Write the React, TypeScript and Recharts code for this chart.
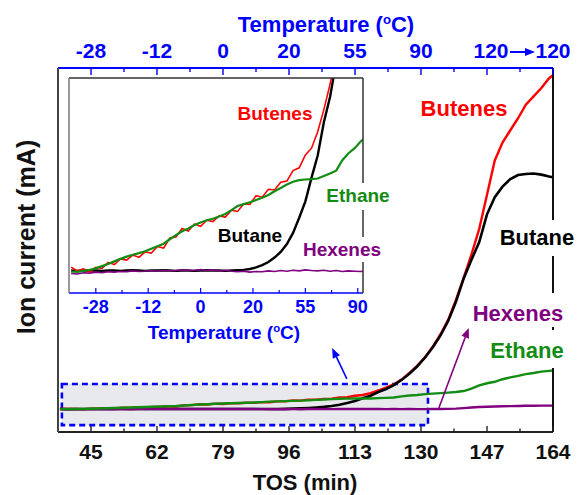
import React from 'react';
import { LineChart, Line, XAxis, YAxis, ReferenceArea, ReferenceLine } from 'recharts';

const W = 578;
const H = 495;
const FONT = '"Liberation Sans", Arial, Helvetica, sans-serif';
const BLUE = '#0000ff';
const RED = '#ff0000';
const GREEN = '#138c13';
const PURPLE = '#800080';

// time on stream (min)
const tos = [
  37, 39, 41, 43, 45, 47, 49, 51, 53, 55, 57, 59, 61, 63, 65, 67, 69, 71, 73, 75, 77, 79,
  81, 83, 85, 87, 89, 91, 93, 95, 97, 99, 101, 103, 105, 107, 109, 111, 113, 115, 117, 119,
  121, 123, 125, 127, 129, 131, 133, 135, 137, 139, 141, 143, 145, 147, 149, 151, 153, 155,
  157, 159, 161, 163, 164,
];

// ion current (arb. mA scale)
const butenes = [
  6.42, 6.3, 6.36, 6.26, 6.41, 6.38, 6.57, 6.5, 6.68, 6.64, 6.8, 6.73, 6.9, 6.86, 7.07, 7.02,
  7.34, 7.37, 7.64, 7.56, 7.78, 7.71, 7.9, 7.86, 8.04, 8.0, 8.22, 8.18, 8.42, 8.4, 8.68, 8.63,
  8.88, 8.86, 9.1, 9.14, 9.47, 9.56, 9.97, 10.18, 10.7, 11.4, 12.2, 13.1, 14.4, 16.2, 18.2,
  20.5, 23.4, 26.8, 30.8, 36.3, 42.4, 48.8, 55.8, 65.2, 74.6, 79.5, 82.9, 86.2, 89.9, 92.2,
  94.5, 97.2, 98.0,
];
const butane = [
  6.31, 6.3, 6.31, 6.32, 6.31, 6.3, 6.31, 6.31, 6.3, 6.31, 6.32, 6.31, 6.3, 6.31, 6.31, 6.32,
  6.31, 6.3, 6.31, 6.31, 6.3, 6.31, 6.32, 6.31, 6.31, 6.3, 6.31, 6.32, 6.33, 6.36, 6.41, 6.48,
  6.58, 6.72, 6.9, 7.15, 7.5, 7.98, 8.5, 9.25, 9.95, 11.0, 11.8, 12.9, 14.3, 16.0, 18.0, 20.4,
  23.2, 26.5, 30.5, 35.8, 42.2, 47.3, 52.2, 59.8, 64.5, 67.4, 69.5, 70.6, 70.9, 71.0, 70.7,
  70.2, 70.0,
];
const ethane = [
  6.28, 6.27, 6.3, 6.33, 6.38, 6.45, 6.52, 6.6, 6.68, 6.75, 6.81, 6.86, 6.92, 7.0, 7.08, 7.16,
  7.3, 7.43, 7.55, 7.64, 7.75, 7.83, 7.9, 7.95, 8.02, 8.1, 8.22, 8.35, 8.41, 8.47, 8.54, 8.61,
  8.7, 8.82, 8.92, 9.03, 9.12, 9.17, 9.19, 9.2, 9.22, 9.3, 9.38, 9.47, 9.8, 10.02, 10.18, 10.4,
  10.55, 10.68, 10.82, 10.98, 11.25, 11.9, 12.8, 13.4, 13.8, 14.5, 15.0, 15.4, 15.9, 16.2,
  16.6, 16.8, 16.9,
];
const hexenes = [
  6.22, 6.2, 6.24, 6.23, 6.26, 6.24, 6.27, 6.26, 6.28, 6.27, 6.3, 6.28, 6.29, 6.31, 6.29, 6.32,
  6.3, 6.31, 6.33, 6.31, 6.32, 6.34, 6.31, 6.33, 6.3, 6.32, 6.29, 6.27, 6.29, 6.26, 6.28, 6.27,
  6.3, 6.28, 6.31, 6.29, 6.32, 6.3, 6.33, 6.31, 6.3, 6.32, 6.29, 6.31, 6.28, 6.3, 6.29, 6.28,
  6.3, 6.31, 6.35, 6.42, 6.55, 6.72, 6.85, 6.95, 7.02, 7.08, 7.12, 7.16, 7.2, 7.22, 7.24, 7.25,
  7.25,
];

const rows = tos.map((t, i) => ({
  tos: t,
  butenes: butenes[i],
  butane: butane[i],
  ethane: ethane[i],
  hexenes: hexenes[i],
}));

// TOS ticks and the matching reactor temperature labels
const tosTicks = [45, 62, 79, 96, 113, 130, 147, 164];
const tempLabels = ['-28', '-12', '0', '20', '55', '90', '120', '120'];
const minorTicks = [53.5, 70.5, 87.5, 104.5, 121.5, 138.5, 155.5];
const insetMajor = tosTicks.slice(0, 6);
const insetMinor = minorTicks.slice(0, 5);

const mainX: [number, number] = [36.5, 164];
const mainY: [number, number] = [0, 100];
// region blown up in the inset
const insetX: [number, number] = [36.3, 131.7];
const insetY: [number, number] = [5.6, 12.4];
const boxX = [37.5, 131.8];
const boxY = [1.9, 13.2];

// annotation arrows (data units)
const hexArrow = [{ x: 134.6, y: 6.6 }, { x: 142.3, y: 28.6 }];
const boxArrow = [{ x: 110.9, y: 14.6 }, { x: 107.1, y: 23.1 }];

const tempOf = (v: number) => tempLabels[tosTicks.indexOf(v)];

const BottomTick = (p: any) => {
  const { x, y, payload } = p;
  const major = tosTicks.includes(payload.value);
  return (
    <g>
      <line x1={x} x2={x} y1={y} y2={y - (major ? 6 : 3.5)} stroke="#222" strokeWidth={1.4} />
      {major && (
        <text x={x} y={y + 27} textAnchor="middle" fontSize={21} fontWeight="bold" fontFamily={FONT} fill="#111">
          {payload.value}
        </text>
      )}
    </g>
  );
};

const TopTick = (p: any) => {
  const { x, y, payload } = p;
  const major = tosTicks.includes(payload.value);
  const v = payload.value;
  return (
    <g>
      <line x1={x} x2={x} y1={y} y2={y + (major ? 7 : 4)} stroke={BLUE} strokeWidth={1.4} />
      {major && (
        <text x={v === 147 ? x + 4 : x} y={y - 10} textAnchor="middle" fontSize={21} fontWeight="bold" fontFamily={FONT} fill={BLUE}>
          {tempOf(v)}
        </text>
      )}
      {v === 147 && (
        <g>
          <line x1={x + 23} x2={x + 40} y1={y - 16} y2={y - 16} stroke={BLUE} strokeWidth={2} />
          <polygon points={`${x + 48},${y - 16} ${x + 38},${y - 20} ${x + 38},${y - 12}`} fill={BLUE} />
        </g>
      )}
    </g>
  );
};

const InsetTick = (p: any) => {
  const { x, y, payload } = p;
  const major = insetMajor.includes(payload.value);
  return (
    <g>
      <line x1={x} x2={x} y1={y} y2={y - (major ? 5 : 3)} stroke={BLUE} strokeWidth={1.2} />
      {major && (
        <text x={x} y={y + 20} textAnchor="middle" fontSize={18} fontWeight="bold" fontFamily={FONT} fill={BLUE}>
          {tempOf(payload.value)}
        </text>
      )}
    </g>
  );
};

const Arrow = (p: any) => {
  const { x1, y1, x2, y2, color } = p;
  const a = Math.atan2(y2 - y1, x2 - x1);
  const bx = x2 - 10 * Math.cos(a);
  const by = y2 - 10 * Math.sin(a);
  const nx = -Math.sin(a) * 4;
  const ny = Math.cos(a) * 4;
  return (
    <g>
      <line x1={x1} y1={y1} x2={bx} y2={by} stroke={color} strokeWidth={1.6} />
      <polygon points={`${x2},${y2} ${bx + nx},${by + ny} ${bx - nx},${by - ny}`} fill={color} />
    </g>
  );
};

const Degree = ({ size }: { size: number }) => (
  <>
    <tspan dy={-size * 0.38} fontSize={size * 0.6}>o</tspan>
    <tspan dy={size * 0.38}>C)</tspan>
  </>
);

const Label = ({ x, y, size, color, text, box }: any) => (
  <g>
    {box && <rect x={box[0]} y={box[1]} width={box[2]} height={box[3]} fill="#fff" />}
    <text x={x} y={y} textAnchor="middle" fontSize={size} fontWeight="bold" fontFamily={FONT} fill={color}>
      {text}
    </text>
  </g>
);

// axes get 1px of room (a zero-size axis is not drawn), so margins are 1px short
export default function App() {
  return (
    <div style={{ position: 'absolute', left: 0, top: 0, width: W, height: H, background: '#fff' }}>
      <div style={{ position: 'absolute', left: 0, top: 0 }}>
        <LineChart width={W} height={H} data={rows} margin={{ top: 67, right: 24, bottom: 62, left: 57 }}>
          <XAxis
            dataKey="tos"
            type="number"
            domain={mainX}
            allowDataOverflow
            ticks={[...tosTicks, ...minorTicks]}
            interval={0}
            height={1}
            tickSize={0}
            tickMargin={0}
            tickLine={false}
            tick={(p: any) => <BottomTick {...p} />}
            axisLine={{ stroke: '#222', strokeWidth: 2 }}
          />
          <XAxis
            xAxisId="top"
            dataKey="tos"
            type="number"
            orientation="top"
            domain={mainX}
            allowDataOverflow
            ticks={[...tosTicks, ...minorTicks]}
            interval={0}
            height={1}
            tickSize={0}
            tickMargin={0}
            tickLine={false}
            tick={(p: any) => <TopTick {...p} />}
            axisLine={{ stroke: BLUE, strokeWidth: 2 }}
          />
          <YAxis yAxisId="left" domain={mainY} width={1} tick={false} tickLine={false} axisLine={{ stroke: '#444', strokeWidth: 2 }} />
          <YAxis yAxisId="right" orientation="right" domain={mainY} width={1} tick={false} tickLine={false} axisLine={{ stroke: '#111', strokeWidth: 2 }} />
          <ReferenceArea
            yAxisId="left"
            x1={boxX[0]}
            x2={boxX[1]}
            y1={boxY[0]}
            y2={boxY[1]}
            fill="#e8e9ed"
            fillOpacity={1}
            stroke={BLUE}
            strokeWidth={2.6}
            strokeDasharray="6 4"
          />
          <Line yAxisId="left" dataKey="butenes" stroke={RED} strokeWidth={2.4} dot={false} isAnimationActive={false} />
          <Line yAxisId="left" dataKey="butane" stroke="#000" strokeWidth={2.6} dot={false} isAnimationActive={false} />
          <Line yAxisId="left" dataKey="hexenes" stroke={PURPLE} strokeWidth={2.4} dot={false} isAnimationActive={false} />
          <Line yAxisId="left" dataKey="ethane" stroke={GREEN} strokeWidth={2.4} dot={false} isAnimationActive={false} />
          <ReferenceLine yAxisId="left" segment={hexArrow} shape={(p: any) => <Arrow {...p} color={PURPLE} />} />
          <ReferenceLine yAxisId="left" segment={boxArrow} shape={(p: any) => <Arrow {...p} color={BLUE} />} />
        </LineChart>
      </div>

      <div style={{ position: 'absolute', left: 0, top: 0 }}>
        <LineChart width={W} height={H} data={rows} margin={{ top: 77, right: 214, bottom: 201, left: 68 }}>
          <XAxis
            dataKey="tos"
            type="number"
            domain={insetX}
            allowDataOverflow
            ticks={[...insetMajor, ...insetMinor]}
            interval={0}
            height={1}
            tickSize={0}
            tickMargin={0}
            tickLine={false}
            tick={(p: any) => <InsetTick {...p} />}
            axisLine={{ stroke: BLUE, strokeWidth: 1.5 }}
          />
          <XAxis xAxisId="top" dataKey="tos" type="number" orientation="top" domain={insetX} allowDataOverflow height={1} tick={false} tickLine={false} axisLine={{ stroke: '#333', strokeWidth: 1.5 }} />
          <YAxis domain={insetY} allowDataOverflow width={1} tick={false} tickLine={false} axisLine={{ stroke: '#777', strokeWidth: 1.5 }} />
          <YAxis yAxisId="r" orientation="right" domain={insetY} allowDataOverflow width={1} tick={false} tickLine={false} axisLine={{ stroke: '#333', strokeWidth: 1.5 }} />
          <Line dataKey="butane" stroke="#000" strokeWidth={2.4} dot={false} isAnimationActive={false} />
          <Line dataKey="hexenes" stroke={PURPLE} strokeWidth={1.6} dot={false} isAnimationActive={false} />
          <Line dataKey="butenes" stroke={RED} strokeWidth={1.6} dot={false} isAnimationActive={false} />
          <Line dataKey="ethane" stroke={GREEN} strokeWidth={2.2} dot={false} isAnimationActive={false} />
        </LineChart>
      </div>

      <svg width={W} height={H} style={{ position: 'absolute', left: 0, top: 0, pointerEvents: 'none' }}>
        <text x={326} y={32} textAnchor="middle" fontSize={22} fontWeight="bold" fontFamily={FONT} fill={BLUE}>
          Temperature (<Degree size={22} />
        </text>
        <text x={305} y={490} textAnchor="middle" fontSize={22} fontWeight="bold" fontFamily={FONT} fill="#111">
          TOS (min)
        </text>
        <text x={35} y={237} transform="rotate(-90 35 237)" textAnchor="middle" fontSize={25} fontWeight="bold" fontFamily={FONT} fill="#111">
          Ion current (mA)
        </text>
        <text x={224} y={339} textAnchor="middle" fontSize={19} fontWeight="bold" fontFamily={FONT} fill={BLUE}>
          Temperature (<Degree size={19} />
        </text>

        <Label x={464} y={116} size={22} color={RED} text="Butenes" />
        <Label x={537} y={245} size={22} color="#000" text="Butane" box={[495, 220, 83, 36]} />
        <Label x={518} y={321} size={22} color={PURPLE} text="Hexenes" box={[474, 293, 98, 34]} />
        <Label x={527} y={358} size={22} color={GREEN} text="Ethane" box={[484, 330, 88, 38]} />

        <Label x={275} y={120} size={19} color={RED} text="Butenes" />
        <Label x={358} y={202} size={19} color={GREEN} text="Ethane" box={[323, 183, 72, 27]} />
        <Label x={250} y={242} size={19} color="#000" text="Butane" />
        <Label x={342} y={256} size={19} color={PURPLE} text="Hexenes" box={[300, 237, 84, 25]} />
      </svg>
    </div>
  );
}
